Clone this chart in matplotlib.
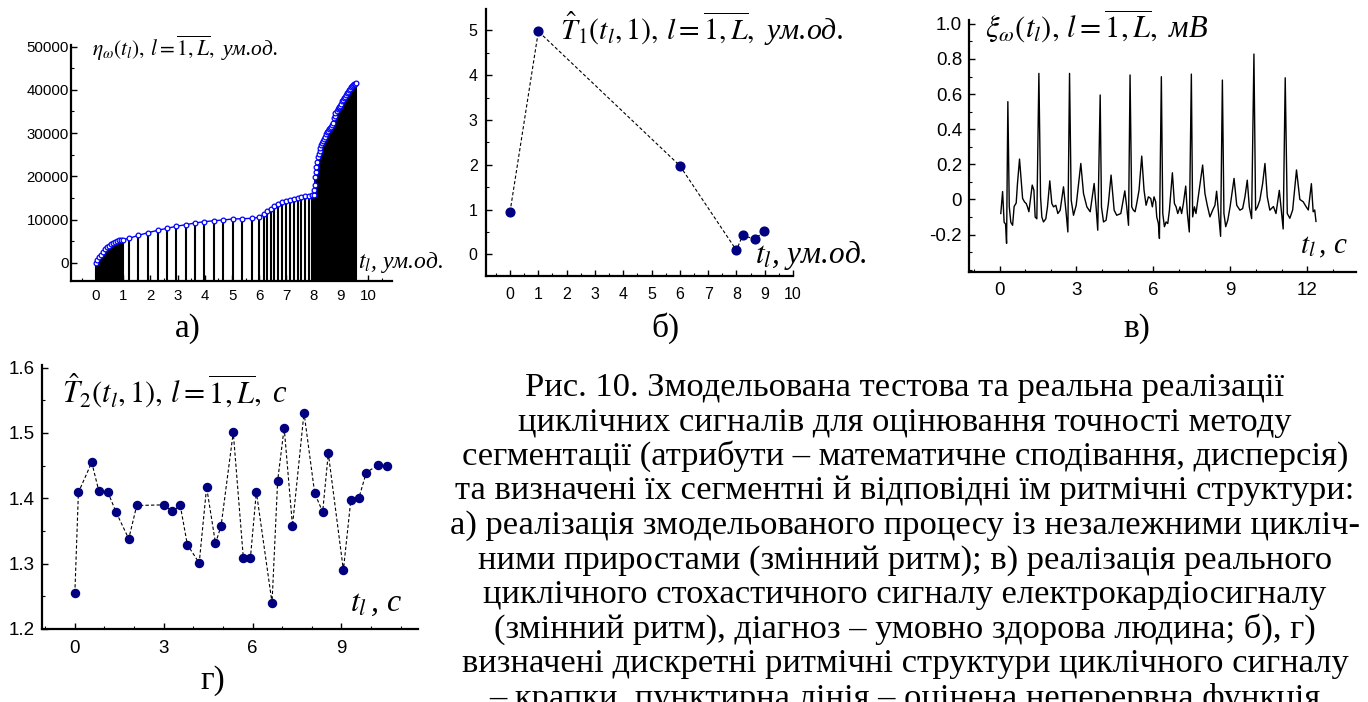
import matplotlib
matplotlib.use('Agg')
import matplotlib.pyplot as plt
from matplotlib.ticker import MultipleLocator, FixedLocator, FixedFormatter

plt.rcParams['mathtext.fontset'] = 'stix'
plt.rcParams['font.family'] = ['Liberation Sans', 'DejaVu Sans']
plt.rcParams['axes.unicode_minus'] = False

# ---------------- data ----------------
# panel а) : eta_omega(t_l)
t_a = [0.00, 0.05, 0.11, 0.17, 0.245, 0.32, 0.39, 0.47, 0.54, 0.61, 0.69, 0.76, 0.83, 0.91, 0.98,
       1.21, 1.56, 1.91, 2.26, 2.60, 2.94, 3.30, 3.64, 3.98, 4.34, 4.68, 5.02, 5.38, 5.72, 5.99,
       6.16, 6.28, 6.43, 6.55, 6.70, 6.85, 7.00, 7.13, 7.28, 7.42, 7.55, 7.68, 7.82, 7.95,
       8.00, 8.02, 8.04, 8.06, 8.08, 8.10, 8.13, 8.16, 8.19, 8.22, 8.25, 8.28, 8.31, 8.34, 8.37,
       8.41, 8.45, 8.49, 8.53, 8.57, 8.61, 8.65, 8.68, 8.71, 8.74, 8.77, 8.80, 8.84, 8.88, 8.92,
       8.95, 8.98, 9.01, 9.04, 9.07, 9.11, 9.14, 9.18, 9.22, 9.25, 9.29, 9.33, 9.36, 9.40, 9.44,
       9.47, 9.51, 9.56]
eta_a = [0, 690, 1300, 1920, 2540, 3150, 3620, 4000, 4390, 4690, 4920, 5080, 5230, 5310, 5380,
         5700, 6390, 7000, 7540, 8000, 8460, 8850, 9240, 9540, 9770, 9930, 10160, 10230, 10310, 10540,
         11300, 11920, 12460, 13080, 13610, 14000, 14300, 14620, 14850, 15080, 15310, 15460, 15540, 15620,
         15700, 16900, 18000, 19900, 21100, 22200, 23400, 24400, 25200, 25900, 26600, 27200, 27700, 28200, 28600,
         29200, 29800, 30200, 30550, 30850, 31200, 31500, 31800, 32400, 33400, 34000, 34600, 35100, 35500, 35800,
         36050, 36300, 36800, 37300, 37650, 38050, 38400, 38850, 39250, 39600, 39950, 40300, 40600, 40850, 41100,
         41300, 41450, 41600]

# panel б) : T1 rhythm estimate
t_b = [0.0, 1.0, 6.0, 8.0, 8.22, 8.65, 8.98]
T1_b = [0.95, 4.98, 1.98, 0.09, 0.42, 0.34, 0.51]

# panel в) : ECG signal (vertices read from the picture)
t_c = [0.05, 0.12, 0.18, 0.235, 0.275, 0.325, 0.38, 0.44, 0.51, 0.57, 0.65, 0.70, 0.78, 0.845, 0.90,
       0.975, 1.04, 1.09, 1.145, 1.21, 1.275, 1.34, 1.39, 1.455, 1.535, 1.60, 1.65, 1.715, 1.805, 1.87,
       1.96, 2.04, 2.105, 2.195, 2.275, 2.365, 2.495, 2.60, 2.665, 2.73, 2.795, 2.885, 2.99, 3.17, 3.275,
       3.405, 3.535, 3.69, 3.765, 3.83, 3.925, 3.975, 4.055, 4.155, 4.245, 4.35, 4.47, 4.57, 4.73, 4.885,
       4.96, 5.03, 5.09, 5.155, 5.22, 5.285, 5.35, 5.44, 5.545, 5.635, 5.715, 5.805, 5.895, 5.96, 6.025,
       6.09, 6.13, 6.195, 6.235, 6.31, 6.365, 6.43, 6.495, 6.56, 6.625, 6.74, 6.82, 6.885, 6.95, 7.04,
       7.10, 7.17, 7.26, 7.325, 7.40, 7.48, 7.53, 7.60, 7.66, 7.75, 7.92, 8.01, 8.10, 8.205, 8.31,
       8.40, 8.465, 8.53, 8.62, 8.69, 8.75, 8.82, 8.90, 8.99, 9.145, 9.25, 9.375, 9.48, 9.57, 9.66,
       9.74, 9.83, 9.92, 9.985, 10.06, 10.15, 10.26, 10.35, 10.44, 10.54, 10.68, 10.78, 10.91, 11.01, 11.06,
       11.14, 11.22, 11.32, 11.43, 11.58, 11.71, 11.84, 11.95, 12.04, 12.16, 12.23, 12.29, 12.34]
xi_c = [-0.08, 0.045, -0.13, -0.14, -0.25, 0.557, -0.04, -0.13, -0.147, -0.04, -0.02, 0.09, 0.23, 0.11, 0.006,
        -0.014, -0.023, -0.042, -0.07, 0.006, 0.082, 0.053, -0.10, -0.11, 0.718, 0.015, -0.10, -0.128, -0.11, -0.042,
        0.106, -0.023, -0.042, -0.033, -0.08, -0.061, 0.072, -0.08, -0.185, 0.718, -0.004, -0.09, -0.033, 0.205, 0.034,
        -0.042, -0.07, 0.091, -0.042, -0.175, 0.595, -0.042, -0.128, -0.118, -0.023, 0.139, -0.061, -0.09, -0.08, 0.049,
        -0.042, -0.147, 0.709, -0.042, -0.061, -0.07, -0.023, 0.053, 0.247, 0.053, -0.033, 0.015, 0.006, -0.042, 0.015,
        -0.014, -0.099, -0.137, -0.222, 0.699, -0.08, -0.155, -0.128, -0.137, -0.061, 0.152, -0.023, -0.042, -0.08, -0.042,
        -0.08, -0.023, 0.076, -0.08, -0.185, 0.714, -0.099, -0.042, -0.08, 0.015, 0.196, 0.034, -0.033, -0.099, -0.061,
        -0.033, 0.047, -0.061, -0.21, 0.68, -0.08, -0.155, -0.118, -0.042, 0.12, -0.033, -0.061, -0.052, 0.015, 0.11,
        -0.042, -0.109, 0.828, -0.061, -0.042, -0.004, 0.091, 0.205, 0.015, -0.061, -0.04, -0.08, 0.052, -0.097, -0.168,
        0.693, -0.08, -0.107, -0.06, 0.168, 0.0, -0.013, -0.04, -0.06, 0.09, -0.07, -0.06, -0.125]

# panel г) : T2 rhythm estimate
t_d = [0.00, 0.12, 0.57, 0.81, 1.11, 1.39, 1.82, 2.09, 3.01, 3.29, 3.56, 3.80, 4.20, 4.45, 4.75,
       4.94, 5.35, 5.69, 5.93, 6.13, 6.66, 6.85, 7.07, 7.35, 7.74, 8.10, 8.37, 8.56, 9.07, 9.32,
       9.59, 9.84, 10.23, 10.55]
T2_d = [1.255, 1.409, 1.455, 1.411, 1.410, 1.379, 1.338, 1.389, 1.390, 1.380, 1.389, 1.329, 1.301, 1.417, 1.331,
        1.358, 1.501, 1.309, 1.309, 1.410, 1.240, 1.427, 1.508, 1.358, 1.531, 1.408, 1.379, 1.469, 1.290, 1.397,
        1.400, 1.439, 1.451, 1.450]

yticks_a = [0, 10000, 20000, 30000, 40000, 50000]
xticks_a = list(range(0, 11))
yticks_b = [0, 1, 2, 3, 4, 5]
xticks_b = list(range(0, 11))
yticks_c = [-0.2, 0.0, 0.2, 0.4, 0.6, 0.8, 1.0]
ylabels_c = ['-0.2', '0', '0.2', '0.4', '0.6', '0.8', '1.0']
xticks_c = [0, 3, 6, 9, 12]
yticks_d = [1.2, 1.3, 1.4, 1.5, 1.6]
ylabels_d = ['1.2', '1.3', '1.4', '1.5', '1.6']
xticks_d = [0, 3, 6, 9]

caption_lines = [
    "Рис. 10. Змодельована тестова та реальна реалізації",
    "циклічних сигналів для оцінювання точності методу",
    "сегментації (атрибути – математичне сподівання, дисперсія)",
    "та визначені їх сегментні й відповідні їм ритмічні структури:",
    "а) реалізація змодельованого процесу із незалежними цикліч-",
    "ними приростами (змінний ритм); в) реалізація реального",
    "циклічного стохастичного сигналу електрокардіосигналу",
    "(змінний ритм), діагноз – умовно здорова людина; б), г)",
    "визначені дискретні ритмічні структури циклічного сигналу",
    "– крапки, пунктирна лінія – оцінена неперервна функція",
]

# ---------------- figure ----------------
W, H = 1368, 702
fig = plt.figure(figsize=(W / 100, H / 100), dpi=100)


def px_axes(l, t, r, b):
    return fig.add_axes([l / W, 1 - b / H, (r - l) / W, (b - t) / H])


def ftext(x, y, s, **kw):
    return fig.text(x / W, 1 - y / H, s, **kw)


def style(ax, fs, xpad, ypad):
    for s in ('top', 'right'):
        ax.spines[s].set_visible(False)
    for s in ('left', 'bottom'):
        ax.spines[s].set_linewidth(1.6)
    ax.tick_params(which='major', direction='in', length=4, width=1.0, labelsize=fs)
    ax.tick_params(which='minor', direction='in', length=2.5, width=0.8)
    ax.tick_params(axis='x', which='major', pad=xpad)
    ax.tick_params(axis='y', which='major', pad=ypad)
    ax.patch.set_alpha(0)


serif_it = dict(family=['Liberation Serif', 'DejaVu Serif'], style='italic', color='black')

# а)
axA = px_axes(71, 45, 392, 281)
axA.set_xlim(-0.92, 10.88)
axA.set_ylim(-4160, 50350)
ybot = axA.get_ylim()[0]
axA.vlines(t_a, ybot, eta_a, colors='black', lw=1.5)
axA.plot(t_a, eta_a, color='#0000FF', lw=1.0, marker='o', ms=3.4, mfc='white', mec='#0000FF', mew=0.9)
axA.set_xticks(xticks_a)
axA.set_yticks(yticks_a)
axA.xaxis.set_minor_locator(MultipleLocator(0.5))
axA.yaxis.set_minor_locator(MultipleLocator(5000))
style(axA, 10.8, 6, 1.5)

# б)
axB = px_axes(486, 9, 793, 276)
axB.set_xlim(-0.85, 9.95)
axB.set_ylim(-0.485, 5.48)
axB.plot(t_b, T1_b, color='black', lw=0.8, ls=(0, (3, 2)))
axB.plot(t_b, T1_b, ls='none', marker='o', ms=6.3, color='#000080')
axB.set_xticks(xticks_b)
axB.set_yticks(yticks_b)
axB.xaxis.set_minor_locator(MultipleLocator(0.5))
axB.yaxis.set_minor_locator(MultipleLocator(0.5))
style(axB, 11.5, 8, 6)

# в)
axC = px_axes(969, 20, 1356, 272)
axC.set_xlim(-1.19, 13.9)
axC.set_ylim(-0.413, 1.022)
axC.plot(t_c, xi_c, color='black', lw=1.0)
axC.set_xticks(xticks_c)
axC.yaxis.set_major_locator(FixedLocator(yticks_c))
axC.yaxis.set_major_formatter(FixedFormatter(ylabels_c))
axC.xaxis.set_minor_locator(MultipleLocator(1))
axC.yaxis.set_minor_locator(MultipleLocator(0.1))
style(axC, 13.5, 7, 5)

# г)
axD = px_axes(42, 365, 418, 629)
axD.set_xlim(-1.11, 11.59)
axD.set_ylim(1.2, 1.604)
axD.plot(t_d, T2_d, color='black', lw=0.8, ls=(0, (3, 2)))
axD.plot(t_d, T2_d, ls='none', marker='o', ms=5.8, color='#000080')
axD.set_xticks(xticks_d)
axD.yaxis.set_major_locator(FixedLocator(yticks_d))
axD.yaxis.set_major_formatter(FixedFormatter(ylabels_d))
axD.xaxis.set_minor_locator(MultipleLocator(1))
axD.yaxis.set_minor_locator(MultipleLocator(0.05))
style(axD, 13.5, 8, 5)

# titles inside panels
ftext(92, 56, r'$\eta_{\omega}(t_{l}),\, l=\overline{1,L},$ ум.од.', fontsize=15.5, va='baseline', **serif_it)
ftext(560, 40, r'$\hat{T}_{1}(t_{l},1),\, l=\overline{1,L},$ ум.од.', fontsize=21.5, va='baseline', **serif_it)
ftext(985, 38, r'$\xi_{\omega}(t_{l}),\, l=\overline{1,L},$ мВ', fontsize=22, va='baseline', **serif_it)
ftext(62, 403, r'$\hat{T}_{2}(t_{l},1),\, l=\overline{1,L},$ с', fontsize=22, va='baseline', **serif_it)

# axis labels
ftext(358, 268, r'$t_{l}$, ум.од.', fontsize=17, va='baseline', **serif_it)
ftext(755, 263, r'$t_{l}$, ум.од.', fontsize=22.5, va='baseline', **serif_it)
ftext(1300, 253, r'$t_{l}\,$, с', fontsize=21, va='baseline', **serif_it)
ftext(350, 611, r'$t_{l}\,$, с', fontsize=23, va='baseline', **serif_it)

# panel letters
serif = dict(family=['Liberation Serif', 'DejaVu Serif'], color='black')
ftext(188, 337, 'а)', fontsize=24, ha='center', va='baseline', **serif)
ftext(665, 337, 'б)', fontsize=24, ha='center', va='baseline', **serif)
ftext(1137, 337, 'в)', fontsize=24, ha='center', va='baseline', **serif)
ftext(213, 689, 'г)', fontsize=24, ha='center', va='baseline', **serif)

# caption
for i, line in enumerate(caption_lines):
    ftext(905, 396 + 34.5 * i, line, fontsize=24.8, ha='center', va='baseline', **serif)

fig.savefig('out.png', dpi=100)
